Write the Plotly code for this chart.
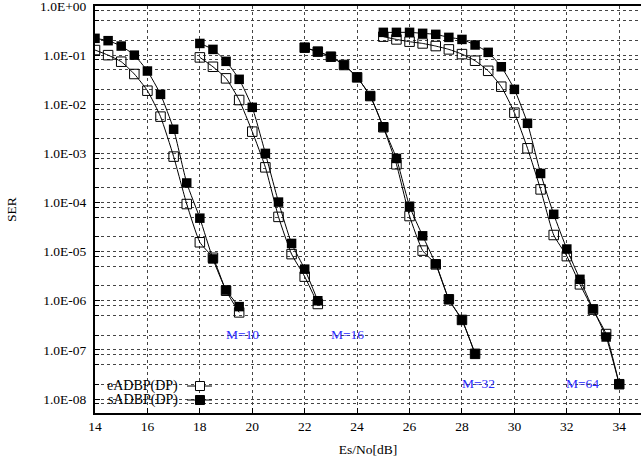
import math
import plotly.graph_objects as go

# ---- data ----
x_m10 = [14, 14.5, 15, 15.5, 16, 16.5, 17, 17.5, 18, 18.5, 19, 19.5]
e_m10 = [0.127, 0.100, 0.0736, 0.0413, 0.0189, 0.0056, 8.6e-4, 9.3e-5, 1.55e-5, 7.5e-6, 1.6e-6, 5.8e-7]
s_m10 = [0.22, 0.197, 0.153, 0.100, 0.0475, 0.0159, 0.0031, 2.5e-4, 4.8e-5, 7.1e-6, 1.65e-6, 7.6e-7]

x_m16 = [18, 18.5, 19, 19.5, 20, 20.5, 21, 21.5, 22, 22.5]
e_m16 = [0.090, 0.058, 0.0337, 0.0122, 0.00277, 5.2e-4, 5.1e-5, 8.9e-6, 3.1e-6, 8.6e-7]
s_m16 = [0.173, 0.131, 0.0748, 0.0322, 0.00866, 0.0010, 1.02e-4, 1.47e-5, 4.4e-6, 1.0e-6]

x_m32 = [22, 22.5, 23, 23.5, 24, 24.5, 25, 25.5, 26, 26.5, 27, 27.5, 28, 28.5]
e_m32 = [0.142, 0.118, 0.093, 0.063, 0.0353, 0.0147, 0.0034, 6.0e-4, 5.3e-5, 1.05e-5, 5.5e-6, 1.07e-6, 4.07e-7, 8.3e-8]
s_m32 = [0.142, 0.118, 0.093, 0.063, 0.0353, 0.0147, 0.00344, 7.9e-4, 8.4e-5, 2.1e-5, 5.6e-6, 1.07e-6, 4.07e-7, 8.3e-8]

x_m64 = [25, 25.5, 26, 26.5, 27, 27.5, 28, 28.5, 29, 29.5, 30, 30.5, 31, 31.5, 32, 32.5, 33, 33.5, 34]
e_m64 = [0.238, 0.209, 0.188, 0.173, 0.153, 0.131, 0.105, 0.077, 0.048, 0.0228, 0.00674, 0.00127,
         1.85e-4, 2.18e-5, 8.1e-6, 2.16e-6, 6.6e-7, 2.1e-7, 2.0e-8]
s_m64 = [0.291, 0.291, 0.291, 0.278, 0.265, 0.230, 0.209, 0.161, 0.114, 0.058, 0.0201, 0.0041,
         3.9e-4, 5.75e-5, 1.13e-5, 2.73e-6, 6.8e-7, 1.83e-7, 2.0e-8]

series_names = ["eADBP(DP)", "sADBP(DP)"]
m_labels = ["M=10", "M=16", "M=32", "M=64"]
m_label_x = [19.64, 23.65, 28.64, 32.6]
m_label_y = [2.1e-7, 2.1e-7, 2.1e-8, 2.1e-8]

y_tick_vals = [10.0 ** (-k) for k in range(0, 9)]
y_tick_text = ["1.0E+00", "1.0E-01", "1.0E-02", "1.0E-03", "1.0E-04",
               "1.0E-05", "1.0E-06", "1.0E-07", "1.0E-08"]
y_minor_vals = [m * 10.0 ** (-k) for k in range(1, 10) for m in (2, 5, 8)]

FONT = "Liberation Serif"
FS = 13.5

fig = go.Figure()

groups = [(x_m10, e_m10, s_m10), (x_m16, e_m16, s_m16),
          (x_m32, e_m32, s_m32), (x_m64, e_m64, s_m64)]
for xs, es, ss in groups:
    fig.add_trace(go.Scatter(
        x=xs, y=es, mode="lines+markers", name=series_names[0], showlegend=False,
        line=dict(color="black", width=1, shape="spline", smoothing=0.5),
        marker=dict(symbol="square-open", size=9.5, color="black", line=dict(width=1, color="black")),
        hoverinfo="x+y"))
    fig.add_trace(go.Scatter(
        x=xs, y=ss, mode="lines+markers", name=series_names[1], showlegend=False,
        line=dict(color="black", width=1, shape="spline", smoothing=0.5),
        marker=dict(symbol="square", size=9.5, color="black"),
        hoverinfo="x+y"))

for t, xv, yv in zip(m_labels, m_label_x, m_label_y):
    fig.add_annotation(x=xv, y=math.log10(yv), yref="y", xref="x", text=t, showarrow=False,
                       yanchor="middle", xanchor="center",
                       font=dict(family=FONT, size=FS, color="#2a2aff"))

# ---- manual gnuplot-style legend (text left, sample right) ----
shapes = [dict(type="rect", xref="paper", yref="paper", x0=0.0, x1=0.229, y0=0.01, y1=0.091,
               fillcolor="white", line=dict(width=0), layer="between")]
rows_y = [0.0663, 0.0319]
for i, ry in enumerate(rows_y):
    fig.add_annotation(x=0.1557, y=ry, xref="paper", yref="paper", xanchor="right", yanchor="middle",
                       text=series_names[i], showarrow=False,
                       font=dict(family=FONT, size=14, color="black"))
    shapes.append(dict(type="line", xref="paper", yref="paper", x0=0.1685, x1=0.2143,
                       y0=ry, y1=ry, line=dict(color="black", width=1), layer="above"))
    shapes.append(dict(type="rect", xref="paper", yref="paper", xsizemode="pixel", ysizemode="pixel",
                       xanchor=0.1923, yanchor=ry, x0=-4.5, x1=4.5, y0=-4.5, y1=4.5,
                       fillcolor="white" if i == 0 else "black",
                       line=dict(color="black", width=1), layer="above"))

fig.update_layout(
    width=641, height=461,
    margin=dict(l=95, r=0, t=6, b=48, autoexpand=False),
    paper_bgcolor="white", plot_bgcolor="white",
    font=dict(family=FONT, size=FS, color="black"),
    shapes=shapes,
    showlegend=False,
)
fig.update_xaxes(
    range=[14, 34.83], tick0=14, dtick=2, automargin=False,
    ticks="inside", ticklen=5, tickwidth=1, tickcolor="black",
    showline=True, linewidth=2, linecolor="black", mirror=True,
    showgrid=True, gridcolor="#444444", griddash="dot", gridwidth=1,
    zeroline=False, ticklabeloverflow="allow",
    title=dict(text="Es/No[dB]", standoff=11, font=dict(family=FONT, size=FS)),
    tickfont=dict(family=FONT, size=FS),
)
fig.update_yaxes(
    type="log", range=[-8.285, 0.0005], automargin=False,
    tickmode="array", tickvals=y_tick_vals, ticktext=y_tick_text,
    ticks="inside", ticklen=5, tickwidth=1, tickcolor="black",
    showline=True, linewidth=2, linecolor="black",
    showgrid=True, gridcolor="#444444", griddash="dot", gridwidth=1,
    minor=dict(tickmode="array", tickvals=y_minor_vals, ticks="inside", ticklen=4,
               tickcolor="black", showgrid=True, gridcolor="#444444", griddash="dot", gridwidth=1),
    zeroline=False, ticklabeloverflow="allow",
    ticklabelstandoff=4,
    title=dict(text="SER", standoff=20, font=dict(family=FONT, size=FS)),
    tickfont=dict(family=FONT, size=FS),
)

fig.write_html("out.html", config={"displayModeBar": False},
               post_script="document.body.style.margin='0px';document.body.style.overflow='hidden';")
